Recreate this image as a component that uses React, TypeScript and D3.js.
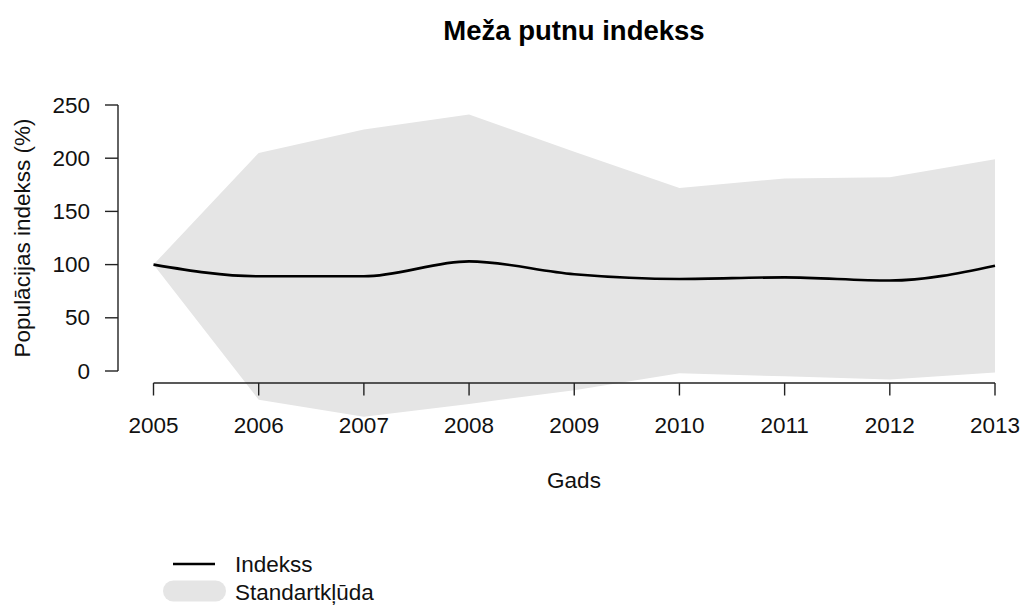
import React from "react";
import * as d3 from "d3";

const years = [2005, 2006, 2007, 2008, 2009, 2010, 2011, 2012, 2013];
const indexValues = [100, 89, 89, 103, 91, 86.5, 88, 85, 99];
const upperValues = [100, 205, 227, 241, 206, 172, 181, 182, 199];
const lowerValues = [100, -27, -43, -31, -18, -2, -5, -8, -1.5];
const yTicks = [0, 50, 100, 150, 200, 250];

const titleText = "Meža putnu indekss";
const xLabel = "Gads";
const yLabel = "Populācijas indekss (%)";
const legendLabels = ["Indekss", "Standartkļūda"];

export default function App() {
  const W = 1023;
  const H = 605;
  const x = d3.scaleLinear().domain([2005, 2013]).range([153.5, 995]);
  const y = d3.scaleLinear().domain([0, 250]).range([371, 105]);
  const font = "Arial, 'Liberation Sans', sans-serif";
  const axisColor = "#222";
  const fs = 22.5;

  const area = d3
    .area<number>()
    .x((_, i) => x(years[i]))
    .y0((_, i) => y(lowerValues[i]))
    .y1((_, i) => y(upperValues[i]))
    .curve(d3.curveLinear);

  const line = d3
    .line<number>()
    .x((_, i) => x(years[i]))
    .y((d) => y(d))
    .curve(d3.curveMonotoneX);

  const axisY = 383;
  const axisX = 118;

  return (
    <svg
      width={W}
      height={H}
      style={{ position: "absolute", left: 0, top: 0, background: "#fff" }}
      fontFamily={font}
    >
      <path d={area(years) || ""} fill="#e5e5e5" stroke="none" />
      <path d={line(indexValues) || ""} fill="none" stroke="#000" strokeWidth={2.6} />

      {/* x axis */}
      <line x1={x(2005)} x2={x(2013)} y1={axisY} y2={axisY} stroke={axisColor} strokeWidth={1.4} />
      {years.map((yr) => (
        <g key={yr}>
          <line x1={x(yr)} x2={x(yr)} y1={axisY} y2={axisY + 12.5} stroke={axisColor} strokeWidth={1.4} />
          <text x={x(yr)} y={425} textAnchor="middle" dominantBaseline="central" fontSize={fs} fill="#111">
            {yr}
          </text>
        </g>
      ))}

      {/* y axis */}
      <line x1={axisX} x2={axisX} y1={y(0)} y2={y(250)} stroke={axisColor} strokeWidth={1.4} />
      {yTicks.map((t) => (
        <g key={t}>
          <line x1={axisX - 13} x2={axisX} y1={y(t)} y2={y(t)} stroke={axisColor} strokeWidth={1.4} />
          <text x={90} y={y(t)} textAnchor="end" dominantBaseline="central" fontSize={fs} fill="#111">
            {t}
          </text>
        </g>
      ))}

      {/* title and axis labels */}
      <text x={574} y={30} textAnchor="middle" dominantBaseline="central" fontSize={27.5} fontWeight="bold" fill="#000">
        {titleText}
      </text>
      <text x={574} y={480} textAnchor="middle" dominantBaseline="central" fontSize={fs} fill="#111">
        {xLabel}
      </text>
      <text
        transform={`translate(22, ${(y(0) + y(250)) / 2}) rotate(-90)`}
        textAnchor="middle"
        dominantBaseline="central"
        fontSize={fs}
        fill="#111"
      >
        {yLabel}
      </text>

      {/* legend */}
      <line x1={173} x2={215} y1={564} y2={564} stroke="#000" strokeWidth={2.6} />
      <text x={235} y={564} dominantBaseline="central" fontSize={fs} fill="#111">
        {legendLabels[0]}
      </text>
      <line x1={173.5} x2={215.5} y1={591} y2={591} stroke="#e5e5e5" strokeWidth={21} strokeLinecap="round" />
      <text x={235} y={592} dominantBaseline="central" fontSize={fs} fill="#111">
        {legendLabels[1]}
      </text>
    </svg>
  );
}
